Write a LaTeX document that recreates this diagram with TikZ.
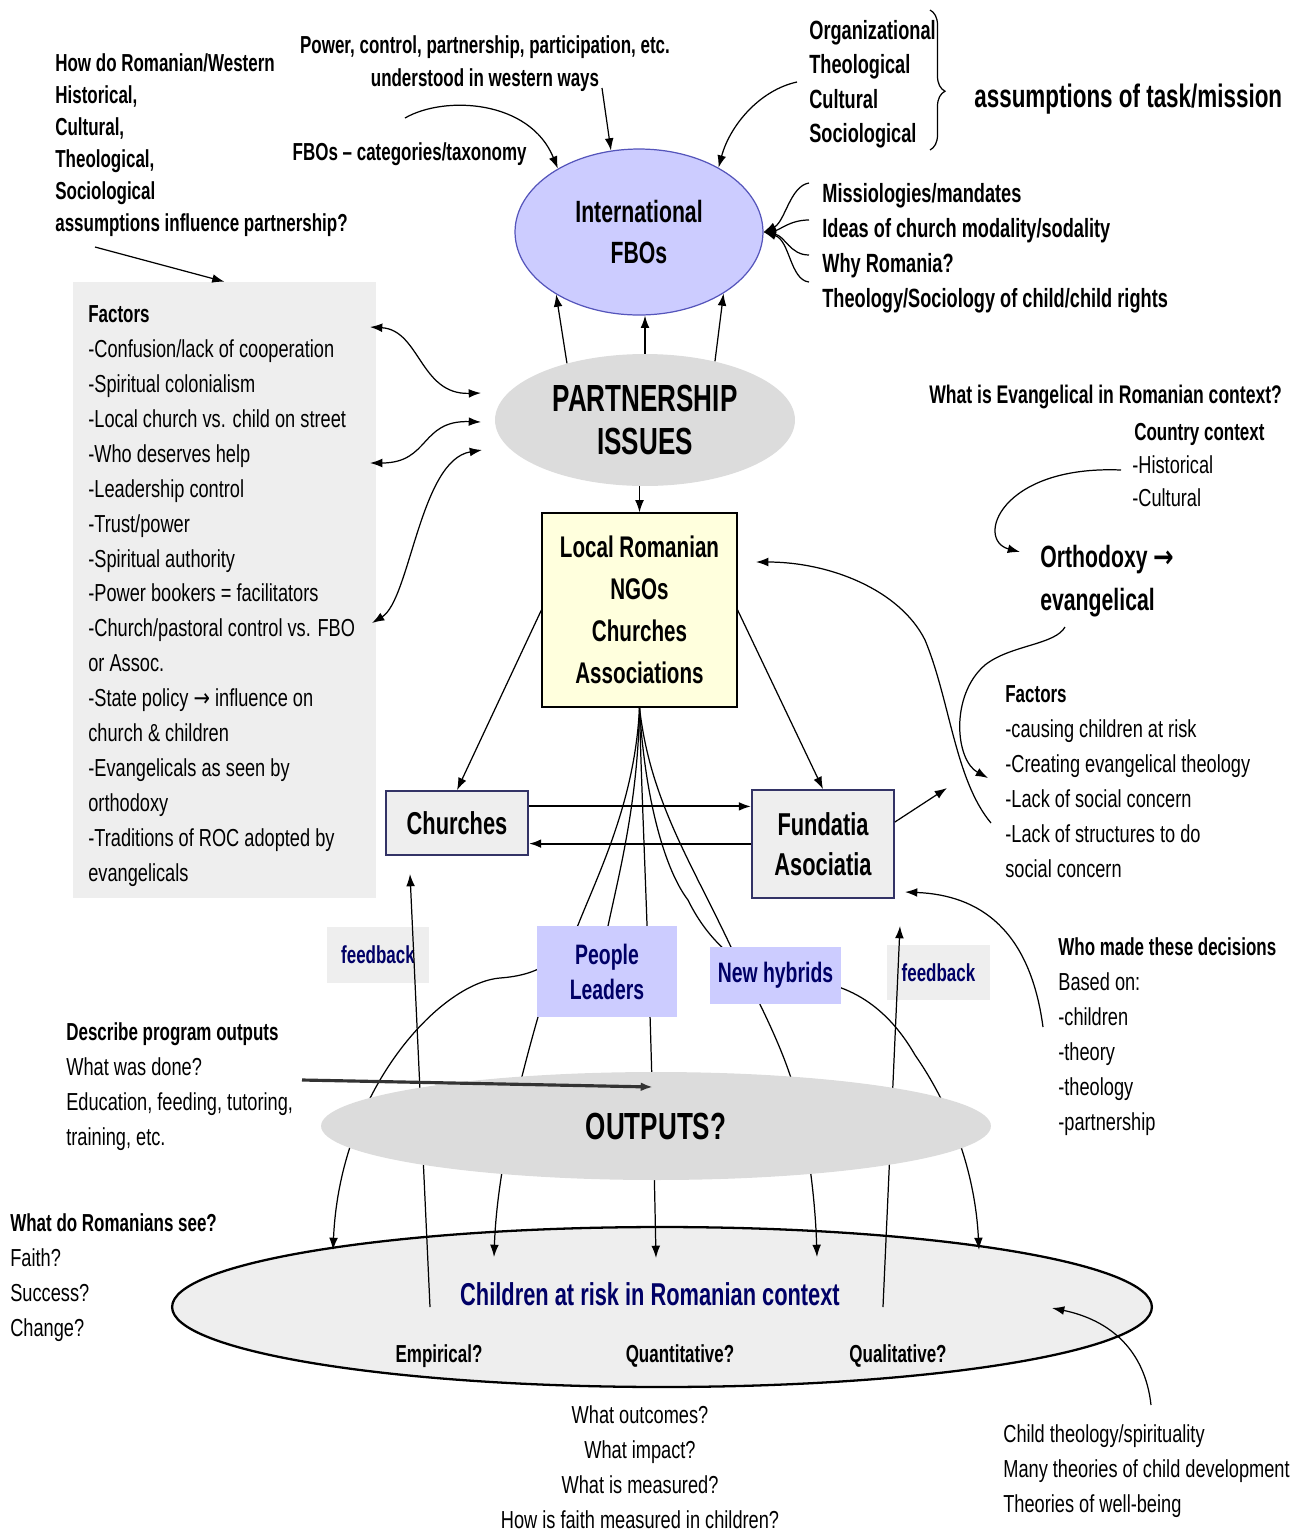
\documentclass[tikz,border=0pt]{standalone}
\usepackage{fontspec}
\setmainfont{Liberation Sans}[FakeStretch=0.74]
\newfontfamily\fett{Liberation Sans}[FakeStretch=0.69]
\newfontfamily\pfeilschrift{DejaVu Sans}[FakeStretch=0.8]
\usetikzlibrary{shapes.geometric, arrows.meta, decorations.pathreplacing}

\definecolor{lila}{HTML}{CCCCFF}
\definecolor{lilarand}{HTML}{5555BB}
\definecolor{grau}{HTML}{DCDCDC}
\definecolor{hellgrau}{HTML}{EEEEEE}
\definecolor{gelb}{HTML}{FFFFDD}
\definecolor{marine}{HTML}{000066}
\definecolor{rand}{HTML}{333366}

\begin{document}
\begin{tikzpicture}
		[
		x=0.02cm, y=-0.02cm, >={Latex[length=7pt,width=5pt]},
		%Voreinstellungen
		kopf/.style={font=\fett\bfseries\fontsize{14}{19.9}\selectfont, align=left, inner sep=0pt, anchor=north west},
		leicht/.style={font=\fontsize{14}{19.9}\selectfont, align=left, inner sep=0pt, anchor=north west},
		blase/.style={ellipse, inner sep=0pt, align=center},
		kasten/.style={rectangle, inner sep=0pt, align=center},
		blau/.style={text=marine, font=\fett\bfseries\fontsize{16}{19.9}\selectfont},
		pfeil/.style={->, line width=0.7pt},
		linie/.style={line width=0.7pt}
		]
		
		%Rahmen
		\useasboundingbox (0,0) rectangle (1299,1536);
		
		%Kasten Faktoren links
		\node[kasten, fill=hellgrau, minimum width=6.06cm, minimum height=12.32cm] (fakt) at (224.5,590) {};
		\node[leicht] (faktliste) at (88,305) {{\fett\bfseries Factors}\\-Confusion/lack of cooperation\\-Spiritual colonialism\\-Local church vs. child on street\\-Who deserves help\\-Leadership control\\-Trust/power\\-Spiritual authority\\-Power bookers = facilitators\\-Church/pastoral control vs. FBO\\or Assoc.\\-State policy {\pfeilschrift →} influence on\\church \& children\\-Evangelicals as seen by\\orthodoxy\\-Traditions of ROC adopted by\\evangelicals};
		
		%Ellipse FBOs
		\node[blase, fill=lila, draw=lilarand, linie, minimum width=4.96cm, minimum height=3.32cm, font=\fett\bfseries\fontsize{17.5}{23.3}\selectfont] (fbo) at (639,232) {International\\FBOs};
		
		%Ellipse Partnership
		\node[blase, fill=grau, minimum width=6cm, minimum height=2.64cm, font=\fett\bfseries\fontsize{21.5}{24.5}\selectfont] (partner) at (645,420) {PARTNERSHIP\\ISSUES};
		
		%Kasten lokal
		\node[kasten, fill=gelb, draw, linie, minimum width=3.9cm, minimum height=3.88cm, font=\fett\bfseries\fontsize{17}{23.9}\selectfont] (lokal) at (639.5,610) {Local Romanian\\NGOs\\Churches\\Associations};
		
		%Ellipse Kinder
		\node[blase, fill=hellgrau, draw, line width=1.3pt, minimum width=19.6cm, minimum height=3.2cm] (kinder) at (662,1307) {};
		
		%feedback
		\node[kasten, fill=hellgrau, minimum width=2.04cm, minimum height=1.12cm, blau, font=\fett\bfseries\fontsize{14}{18}\selectfont] (fb1) at (378,955) {feedback};
		\node[kasten, fill=hellgrau, minimum width=2.06cm, minimum height=1.1cm, blau, font=\fett\bfseries\fontsize{14}{18}\selectfont] (fb2) at (938.5,972.5) {feedback};
		
		%Pfeilspitzen an der Kinder-Ellipse
		\coordinate (k1) at (333,1250);
		\coordinate (k2) at (494,1257);
		\coordinate (k3) at (656,1258);
		\coordinate (k4) at (817,1257);
		\coordinate (k5) at (979,1250);
		
		%Faecher von lokal nach unten
		\draw[pfeil] (lokal.south) .. controls (635,800) and (600,870) .. (578,925) .. controls (562,960) and (540,975) .. (500,978) .. controls (440,983) and (340,1090) .. (k1);
		\draw[pfeil] (lokal.south) .. controls (638,800) and (620,870) .. (608,926) .. controls (595,985) and (545,1000) .. (538,1017) .. controls (520,1080) and (497,1170) .. (k2);
		\draw[pfeil] (lokal.south) .. controls (642,820) and (650,950) .. (k3);
		\draw[pfeil] (lokal.south) .. controls (650,800) and (690,860) .. (731,947) .. controls (745,975) and (775,1030) .. (790,1075) .. controls (805,1120) and (815,1190) .. (k4);
		\draw[pfeil] (lokal.south) .. controls (645,800) and (665,870) .. (688,900) .. controls (705,935) and (740,978) .. (800,980) .. controls (860,982) and (895,1020) .. (915,1055) .. controls (950,1105) and (975,1170) .. (k5);
		
		%feedback Linien
		\coordinate (r1) at (430,1307);
		\coordinate (rz1) at (410,874);
		\coordinate (r2) at (883,1307);
		\coordinate (rz2) at (900,926);
		\draw[pfeil] (r1) -- (rz1);
		\draw[pfeil] (r2) -- (rz2);
		
		%Ellipse Outputs
		\node[blase, fill=grau, minimum width=13.4cm, minimum height=2.16cm, font=\fett\bfseries\fontsize{21.5}{24}\selectfont] (outputs) at (656,1126) {OUTPUTS?};
		
		%People und hybrids
		\node[kasten, fill=lila, minimum width=2.8cm, minimum height=1.82cm, blau] (people) at (607,971.5) {People\\Leaders};
		\node[kasten, fill=lila, minimum width=2.62cm, minimum height=1.14cm, blau] (hybrid) at (775.5,975.5) {New hybrids};
		
		%Churches und Fundatia
		\node[kasten, fill=hellgrau, draw=rand, line width=1pt, minimum width=2.84cm, minimum height=1.28cm, font=\fett\bfseries\fontsize{18}{22.8}\selectfont] (churches) at (457,823) {Churches};
		\node[kasten, fill=hellgrau, draw=rand, line width=1pt, minimum width=2.84cm, minimum height=2.16cm, font=\fett\bfseries\fontsize{18}{22.8}\selectfont] (fundatia) at (823,844) {Fundatia\\Asociatia};
		
		%Pfeile zwischen den Kaesten
		\draw[pfeil] (partner.144) -- (fbo.217);
		\draw[pfeil] (partner.north) -- (partner.north |- fbo.south);
		\draw[pfeil] (partner.40) -- (fbo.324);
		\draw[pfeil] (partner.south -| lokal.north) -- (lokal.north);
		\draw[pfeil] (lokal.west) -- (churches.north);
		\draw[pfeil] (lokal.east) -- (fundatia.north);
		\draw[pfeil, line width=1.2pt] (churches.13) -- (churches.13 -| fundatia.west);
		\draw[pfeil, line width=1.2pt] (churches.344 -| fundatia.west) -- (churches.344);
		\coordinate (fz) at (947,788);
		\draw[pfeil] (fundatia.17) -- (fz);
		
		%Text oben links
		\node[kopf, font=\fett\bfseries\fontsize{14}{18.2}\selectfont] (frage) at (55,53) {How do Romanian/Western\\Historical,\\Cultural,\\Theological,\\Sociological\\assumptions influence partnership?};
		\coordinate (fr1) at (95,247);
		\draw[pfeil] (fr1) -- (fakt.north);
		
		%Text oben Mitte
		\node[kopf, anchor=north, align=center, font=\fett\bfseries\fontsize{14}{18.8}\selectfont] (power) at (485,35) {Power, control, partnership, participation, etc.\\understood in western ways};
		\coordinate (pw1) at (602,88);
		\draw[pfeil] (pw1) -- (fbo.109);
		
		\node[kopf, anchor=north east] (kat) at (527,142) {FBOs – categories/taxonomy};
		\coordinate (ka1) at (405,118);
		\draw[pfeil] (ka1) .. controls (445,95) and (530,100) .. (fbo.142);
		
		%Text oben rechts
		\node[kopf, font=\fett\bfseries\fontsize{15}{19.6}\selectfont] (org) at (809,20) {Organizational\\Theological\\Cultural\\Sociological};
		\coordinate (o1) at (797,82);
		\draw[pfeil] (o1) .. controls (760,90) and (730,125) .. (fbo.39);
		\coordinate (b1) at (930,10);
		\coordinate (b2) at (930,150);
		\draw[linie, decorate, decoration={brace, amplitude=0.3cm, aspect=0.58}] (b1) -- (b2);
		\node[inner sep=0pt, anchor=base west, font=\fett\bfseries\fontsize{18.5}{22}\selectfont] (auftrag) at (974,107) {assumptions of task/mission};
		
		%Missiologies
		\node[kopf, font=\fett\bfseries\fontsize{15}{19.9}\selectfont] (mis) at (822,183) {Missiologies/mandates\\Ideas of church modality/sodality\\Why Romania?\\Theology/Sociology of child/child rights};
		\coordinate (m1) at (809,183);
		\coordinate (m2) at (809,220);
		\coordinate (m3) at (809,255);
		\coordinate (m4) at (809,282);
		\draw[pfeil] (m1) .. controls (790,186) and (785,222) .. (fbo.east);
		\draw[pfeil] (m2) .. controls (790,220) and (780,230) .. (fbo.east);
		\draw[pfeil] (m3) .. controls (790,255) and (785,236) .. (fbo.east);
		\draw[pfeil] (m4) .. controls (790,280) and (790,240) .. (fbo.east);
		
		%Doppelpfeile Faktoren - Partnership
		\coordinate (f1) at (370,327);
		\coordinate (f2) at (370,463);
		\coordinate (f3) at (372,623);
		\coordinate (p1) at (481,393);
		\coordinate (p2) at (481,422);
		\coordinate (p3) at (482,450);
		\draw[linie, <->] (f1) .. controls (420,330) and (420,395) .. (p1);
		\draw[linie, <->] (f2) .. controls (430,463) and (420,420) .. (p2);
		\draw[linie, <->] (f3) .. controls (410,600) and (420,460) .. (p3);
		
		%Evangelical rechts
		\node[kopf, font=\fett\bfseries\fontsize{14.5}{19.9}\selectfont] (evfrage) at (929,385) {What is Evangelical in Romanian context?};
		\node[kopf] (land) at (1134,423) {Country context};
		\node[leicht, font=\fontsize{14}{18.8}\selectfont] (hist) at (1132,455) {-Historical\\-Cultural};
		\node[kopf, font=\fett\bfseries\fontsize{17.5}{24.5}\selectfont] (ortho) at (1040,545) {Orthodoxy {\pfeilschrift\bfseries →}\\evangelical};
		\coordinate (h1) at (1121,470);
		\coordinate (oz) at (1020,552);
		\draw[pfeil] (h1) .. controls (1000,465) and (975,540) .. (oz);
		
		%Faktoren rechts
		\node[leicht] (faktr) at (1005,685) {{\fett\bfseries Factors}\\-causing children at risk\\-Creating evangelical theology\\-Lack of social concern\\-Lack of structures to do\\social concern};
		\coordinate (e1) at (1065,627);
		\coordinate (ez) at (988,778);
		\draw[pfeil] (e1) .. controls (1055,645) and (1010,645) .. (985,665) .. controls (950,695) and (955,760) .. (ez);
		\coordinate (g1) at (991,823);
		\coordinate (lz) at (756,562);
		\draw[pfeil] (g1) .. controls (955,780) and (950,700) .. (925,640) .. controls (900,590) and (830,562) .. (lz);
		
		%Entscheidungen
		\node[leicht] (wer) at (1058,937) {{\fett\bfseries Who made these decisions}\\Based on:\\-children\\-theory\\-theology\\-partnership};
		\coordinate (w1) at (1043,1027);
		\coordinate (wz) at (905,892);
		\draw[pfeil] (w1) .. controls (1030,930) and (980,895) .. (wz);
		
		%Outputs links
		\node[leicht] (descr) at (66,1022) {{\fett\bfseries Describe program outputs}\\What was done?\\Education, feeding, tutoring,\\training, etc.};
		\coordinate (d1) at (302,1080);
		\coordinate (d2) at (653,1087);
		\draw[->, line width=1.8pt, black!80] (d1) -- (d2);
		
		%Romanians
		\node[leicht] (sehen) at (10,1213) {{\fett\bfseries What do Romanians see?}\\Faith?\\Success?\\Change?};
		
		%Texte in der Kinder-Ellipse
		\node[inner sep=0pt, text=marine, font=\fett\bfseries\fontsize{18}{22}\selectfont] (kindtext) at (650,1294) {Children at risk in Romanian context};
		\node[kopf, anchor=north] (emp) at (439,1344) {Empirical?};
		\node[kopf, anchor=north] (quan) at (680,1344) {Quantitative?};
		\node[kopf, anchor=north] (qual) at (898,1344) {Qualitative?};
		
		%Fragen unten
		\node[leicht, anchor=north, align=center] (messung) at (640,1405) {What outcomes?\\What impact?\\What is measured?\\How is faith measured in children?};
		
		%Theorien unten rechts
		\node[leicht] (theorie) at (1003,1424) {Child theology/spirituality\\Many theories of child development\\Theories of well-being};
		\coordinate (c1) at (1151,1405);
		\coordinate (cz) at (1052,1308);
		\draw[pfeil] (c1) .. controls (1145,1350) and (1110,1320) .. (cz);
		
	\end{tikzpicture}
\end{document}
